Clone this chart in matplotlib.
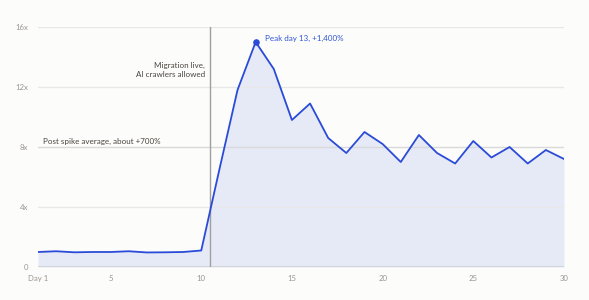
import matplotlib.pyplot as plt

days = list(range(1, 31))
traffic = [1.0, 1.05, 0.98, 1.0, 1.0, 1.05, 0.97, 0.98, 1.0, 1.1,
           6.5, 11.8, 15.0, 13.2, 9.8, 10.9, 8.6, 7.6, 9.0, 8.2,
           7.0, 8.8, 7.6, 6.9, 8.4, 7.3, 8.0, 6.9, 7.8, 7.2]
x_ticks = [1, 5, 10, 15, 20, 25, 30]
x_labels = ['Day 1', '5', '10', '15', '20', '25', '30']
y_ticks = [0, 4, 8, 12, 16]
y_labels = ['0', '4x', '8x', '12x', '16x']
migration_day = 10.5
peak_day = 13
avg_level = 8

bg = '#fcfcfa'
blue = '#2a4bd7'
plt.rcParams['font.family'] = ['Lato', 'DejaVu Sans']

fig = plt.figure(figsize=(5.89, 3.0), dpi=100, facecolor=bg)
ax = fig.add_axes([38 / 589, 33 / 300, 526 / 589, 240 / 300], facecolor=bg)

ax.fill_between(days, traffic, 0, color='#e6e9f6', lw=0, zorder=1)
ax.plot(days, traffic, color=blue, lw=1.3, zorder=3)
ax.scatter([peak_day], [traffic[peak_day - 1]], s=14, color=blue, zorder=4)

for y in y_ticks[1:]:
    ax.axhline(y, color='#d9d9d9' if y == avg_level else '#e8e8e8', lw=1, zorder=2)
ax.axhline(0, color='#d0d0d0', lw=1.2, zorder=2)
ax.axvline(migration_day, color='#a0a0a0', lw=1, zorder=2)

ax.text(migration_day - 0.3, 13.15, 'Migration live,\nAI crawlers allowed', ha='right',
        va='center', fontsize=5.8, color='#4a4540', linespacing=1.35)
ax.text(1.25, 8.4, 'Post spike average, about +700%', ha='left', va='center',
        fontsize=5.8, color='#4a4540')
ax.text(peak_day + 0.5, 15.25, 'Peak day 13, +1,400%', ha='left', va='center',
        fontsize=5.8, color='#2f55d4')

ax.set_xlim(1, 30)
ax.set_ylim(0, 16)
ax.set_xticks(x_ticks)
ax.set_xticklabels(x_labels)
ax.set_yticks(y_ticks)
ax.set_yticklabels(y_labels)
ax.tick_params(length=0, labelsize=5.6, labelcolor='#9a9590')
ax.tick_params(axis='x', pad=6)
ax.tick_params(axis='y', pad=7)
for s in ax.spines.values():
    s.set_visible(False)

fig.savefig('out.png', dpi=100, facecolor=bg)
